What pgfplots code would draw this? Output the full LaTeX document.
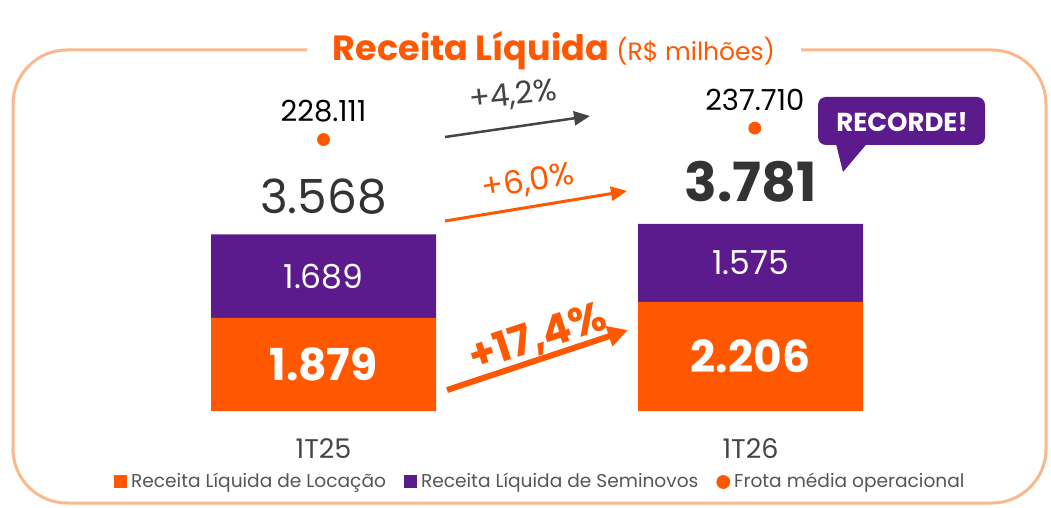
\documentclass[border=0pt]{standalone}
\usepackage{fontspec}
\setmainfont{Poppins}
\usepackage{pgfplots}
\pgfplotsset{compat=1.18}
\usetikzlibrary{arrows.meta}
\definecolor{orng}{RGB}{255,88,0}
\definecolor{purp}{RGB}{92,27,140}
\definecolor{framec}{RGB}{249,185,140}
\definecolor{txt}{RGB}{51,51,51}
\definecolor{gry}{RGB}{68,68,68}
\definecolor{leg}{RGB}{85,85,85}
\begin{document}
\begin{tikzpicture}[px/.style={x=0.5pt,y=-0.5pt}]
\path[use as bounding box] (0pt,0pt) rectangle (525.5pt,-254pt);
\begin{scope}[px]
\draw[framec, line width=1.5pt, rounded corners=27pt] (13,50) rectangle (1046,503);
\node[fill=white, inner xsep=13pt, inner ysep=2pt, text=orng] at (554,51) {\fontsize{17.5}{20}\selectfont\bfseries Receita Líquida \fontsize{12.5}{14}\selectfont\mdseries(R\$ milhões)};
\end{scope}

\begin{axis}[at={(0pt,-205.5pt)}, anchor=south west, scale only axis,
  width=525.5pt, height=205.5pt,
  xmin=-0.7576, xmax=1.7037, ymin=0, ymax=8303,
  ybar stacked, bar width=112.5pt,
  axis line style={draw=none}, major tick length=0pt,
  xtick={0,1}, xticklabels={1T25,1T26}, ytick=\empty,
  xticklabel style={font=\fontsize{13.5}{15}\selectfont, text=gry, anchor=center, yshift=-19pt},
  clip=false,
  legend columns=3,
  legend cell align=left,
  legend style={at={(0.515,-0.1727)}, anchor=center, draw=none, fill=none,
    font=\fontsize{9.3}{11}\selectfont, text=leg,
    /tikz/every even column/.append style={column sep=7pt}},
  after end axis/.code={
    \node[text=white, font=\fontsize{22}{24}\selectfont\bfseries] at (axis cs:0,939.5) {1.879};
    \node[text=white, font=\fontsize{16.5}{18}\selectfont] at (axis cs:0,2723.5) {1.689};
    \node[text=white, font=\fontsize{22}{24}\selectfont\bfseries] at (axis cs:1,1103) {2.206};
    \node[text=white, font=\fontsize{16.5}{18}\selectfont] at (axis cs:1,2993.5) {1.575};
    \node[text=txt, font=\fontsize{23.5}{25}\selectfont] at (axis cs:0,4323) {3.568};
    \node[text=txt, font=\fontsize{27}{29}\selectfont\bfseries] at (axis cs:1,4626) {3.781};
  },
]
\addplot[fill=orng, draw=none, legend image code/.code={\fill[orng] (0pt,-3.25pt) rectangle (6.5pt,3.25pt);}]
  coordinates {(0,1879) (1,2206)};
\addplot[fill=purp, draw=none, legend image code/.code={\fill[purp] (0pt,-3.25pt) rectangle (6.5pt,3.25pt);}]
  coordinates {(0,1689) (1,1575)};
\addlegendimage{legend image code/.code={\fill[orng] (3.25pt,0pt) circle (3.25pt);}}
\legend{Receita Líquida de Locação, Receita Líquida de Seminovos, Frota média operacional}
\end{axis}

\begin{axis}[at={(0pt,-205.5pt)}, anchor=south west, scale only axis,
  width=525.5pt, height=205.5pt,
  xmin=-0.7576, xmax=1.7037, ymin=0, ymax=345378,
  hide axis, clip=false,
  nodes near coords, point meta=explicit symbolic,
  every node near coord/.append style={font=\fontsize{14.5}{16}\selectfont, text=black, anchor=center, yshift=14pt},
]
\addplot[only marks, mark=*, mark size=3pt, color=orng]
  coordinates {(0,228111) [228.111] (1.01,237710) [237.710]};
\end{axis}

\begin{scope}[px]
\draw[gry, line width=1.25pt, -{Triangle[length=8pt,width=7pt]}] (445,137) -- (590,116);
\node[text=gry, rotate=6, font=\fontsize{15.5}{17}\selectfont] at (513,96) {+4,2\%};
\draw[orng, line width=1.5pt, -{Triangle[length=8pt,width=7pt]}] (445,221) -- (627,191);
\node[text=orng, rotate=9, font=\fontsize{16}{18}\selectfont] at (528,182) {+6,0\%};
\draw[orng, line width=3pt, -{Triangle[length=10pt,width=10pt]}] (447,390) -- (628,330);
\node[text=orng, rotate=18, font=\fontsize{21}{23}\selectfont\bfseries] at (538,338) {+17,4\%};
\fill[purp, rounded corners=4pt] (818,97) rectangle (985,145);
\fill[purp] (835,140) -- (843,172) -- (870,140) -- cycle;
\node[text=white, font=\fontsize{13}{15}\selectfont\bfseries] at (902,122) {RECORDE!};
\end{scope}
\end{tikzpicture}
\end{document}
